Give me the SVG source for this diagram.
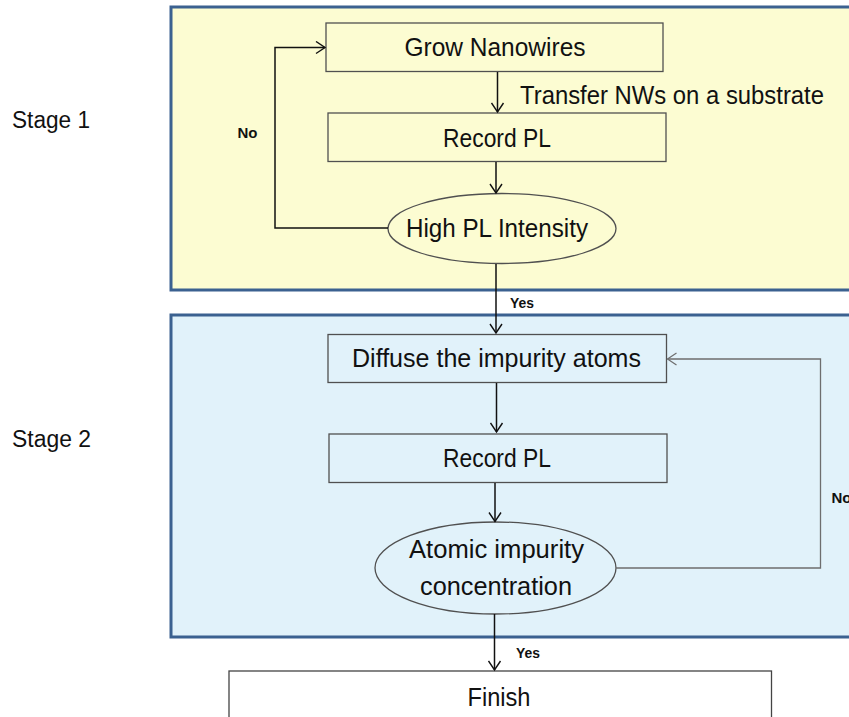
<svg xmlns="http://www.w3.org/2000/svg" width="849" height="717" viewBox="0 0 849 717">
  <defs>
    <marker id="arrow-dark" markerUnits="userSpaceOnUse" markerWidth="14" markerHeight="14" viewBox="-11 -7 12 14" refX="0" refY="0" orient="auto">
      <path d="M-9,-6 L0,0 L-9,6" fill="none" stroke="#111" stroke-width="1.4"/>
    </marker>
    <marker id="arrow-grey" markerUnits="userSpaceOnUse" markerWidth="14" markerHeight="14" viewBox="-11 -7 12 14" refX="0" refY="0" orient="auto">
      <path d="M-9,-6 L0,0 L-9,6" fill="none" stroke="#6e6e6e" stroke-width="1.2"/>
    </marker>
  </defs>
  <style>
    .panel { stroke: #3b6190; stroke-width: 3; }
    .p1 { fill: #fcfcd2; }
    .p2 { fill: #e1f2fa; }
    .box { stroke: #505050; stroke-width: 1.3; }
    .lbl { font-family: "Liberation Sans", Arial, sans-serif; font-size: 25px; fill: #111; text-anchor: middle; }
    .stage { font-family: "Liberation Sans", Arial, sans-serif; font-size: 23px; fill: #111; }
    .note { font-family: "Liberation Sans", Arial, sans-serif; font-size: 25px; fill: #111; }
    .small { font-family: "Liberation Sans", Arial, sans-serif; font-size: 15.5px; font-weight: bold; fill: #111; }
    .wire { fill: none; stroke: #111; stroke-width: 1.5; }
    .wire-grey { fill: none; stroke: #6e6e6e; stroke-width: 1.3; }
  </style>

  <rect width="849" height="717" fill="#ffffff"/>

  <!-- stage panels -->
  <g id="stage1-panel">
    <rect class="panel p1" x="171" y="7" width="700" height="283"/>
    <text class="stage" x="12" y="128" textLength="78" lengthAdjust="spacingAndGlyphs">Stage 1</text>
  </g>
  <g id="stage2-panel">
    <rect class="panel p2" x="171" y="315" width="700" height="322"/>
    <text class="stage" x="12" y="447" textLength="79" lengthAdjust="spacingAndGlyphs">Stage 2</text>
  </g>

  <!-- stage 1 nodes -->
  <g id="grow">
    <rect class="box p1" x="326" y="23" width="337" height="48.5"/>
    <text class="lbl" x="495" y="56" textLength="181" lengthAdjust="spacingAndGlyphs">Grow Nanowires</text>
  </g>
  <g id="record1">
    <rect class="box p1" x="328" y="113" width="338" height="48.5"/>
    <text class="lbl" x="497" y="146.5" textLength="108" lengthAdjust="spacingAndGlyphs">Record PL</text>
  </g>
  <g id="high-pl">
    <ellipse class="box p1" cx="502" cy="228.5" rx="114" ry="35"/>
    <text class="lbl" x="497" y="236.5" textLength="182" lengthAdjust="spacingAndGlyphs">High PL Intensity</text>
  </g>

  <!-- stage 2 nodes -->
  <g id="diffuse">
    <rect class="box p2" x="328" y="334.5" width="338.5" height="48"/>
    <text class="lbl" x="496.5" y="366.5" textLength="289" lengthAdjust="spacingAndGlyphs">Diffuse the impurity atoms</text>
  </g>
  <g id="record2">
    <rect class="box p2" x="329" y="434" width="338" height="48.5"/>
    <text class="lbl" x="497" y="466.5" textLength="108" lengthAdjust="spacingAndGlyphs">Record PL</text>
  </g>
  <g id="concentration">
    <ellipse class="box p2" cx="495.5" cy="568" rx="120.5" ry="46"/>
    <text class="lbl" x="496.5" y="558" textLength="175" lengthAdjust="spacingAndGlyphs">Atomic impurity</text>
    <text class="lbl" x="496" y="595" textLength="152" lengthAdjust="spacingAndGlyphs">concentration</text>
  </g>

  <!-- final node -->
  <g id="finish">
    <rect x="229" y="671" width="542.5" height="60" fill="#ffffff" stroke="#444" stroke-width="1.3"/>
    <text class="lbl" x="499" y="706" textLength="63" lengthAdjust="spacingAndGlyphs">Finish</text>
  </g>

  <!-- connectors -->
  <g id="connectors">
    <line class="wire" x1="497.5" y1="72" x2="497.5" y2="112" marker-end="url(#arrow-dark)"/>
    <text class="note" x="520" y="104" textLength="304" lengthAdjust="spacingAndGlyphs">Transfer NWs on a substrate</text>
    <line class="wire" x1="496" y1="162" x2="496" y2="193" marker-end="url(#arrow-dark)"/>
    <polyline class="wire" points="388,228 275,228 275,47.5 325,47.5" marker-end="url(#arrow-dark)"/>
    <text class="small" x="237.5" y="138" textLength="20" lengthAdjust="spacingAndGlyphs">No</text>
    <line class="wire" x1="496" y1="264" x2="496" y2="333" marker-end="url(#arrow-dark)"/>
    <text class="small" x="510" y="308" textLength="24" lengthAdjust="spacingAndGlyphs">Yes</text>
    <line class="wire" x1="496.5" y1="383" x2="496.5" y2="432" marker-end="url(#arrow-dark)"/>
    <line class="wire" x1="495" y1="483" x2="495" y2="521.5" marker-end="url(#arrow-dark)"/>
    <polyline class="wire-grey" points="616,568 820.5,568 820.5,359 667.5,359" marker-end="url(#arrow-grey)"/>
    <text class="small" x="831.5" y="503" textLength="20" lengthAdjust="spacingAndGlyphs">No</text>
    <line class="wire" x1="494.5" y1="614" x2="494.5" y2="670" marker-end="url(#arrow-dark)"/>
    <text class="small" x="516" y="658" textLength="24" lengthAdjust="spacingAndGlyphs">Yes</text>
  </g>
</svg>
